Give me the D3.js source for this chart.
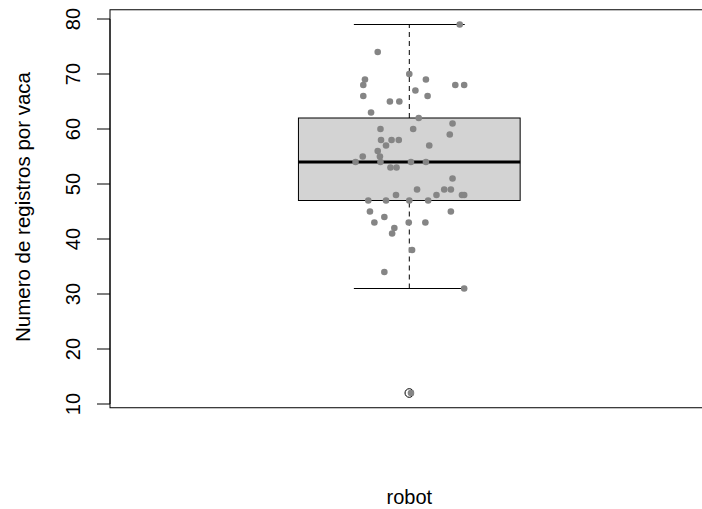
<!DOCTYPE html>
<html>
<head>
<meta charset="utf-8">
<script src="https://cdn.jsdelivr.net/npm/d3@7"></script>
<style>
  body { margin: 0; background: #fff; }
  text { font-family: "Liberation Sans", Arial, sans-serif; fill: #000; }
</style>
</head>
<body>
<div id="chart"></div>
<script>
// registros por vaca (robot)
var values = [79, 74, 70, 69, 69, 68, 68, 68, 67, 66, 66, 65, 65, 63, 62, 61, 60, 60, 59,
    58, 58, 58, 57, 57, 56, 55, 55, 54, 54, 54, 54, 53, 53, 51, 49, 49, 49, 48, 48, 48, 48,
    47, 47, 47, 47, 45, 45, 44, 43, 43, 43, 42, 41, 38, 34, 31, 12];
// horizontal jitter of each point (category units)
var jitter = [0.091, -0.057, 0.000, -0.080, 0.030, -0.083, 0.083, 0.099, 0.011, -0.083, 0.033,
    -0.035, -0.018, -0.069, 0.017, 0.078, -0.052, 0.007, 0.073, -0.051, -0.032, -0.019, -0.042,
    0.036, -0.057, -0.084, -0.053, -0.097, -0.052, 0.003, 0.030, -0.034, -0.023, 0.078, 0.014,
    0.063, 0.075, -0.024, 0.049, 0.095, 0.099, -0.074, -0.042, 0.000, 0.034, -0.071, 0.075,
    -0.045, -0.063, -0.001, 0.029, -0.027, -0.031, 0.005, -0.045, 0.099, 0.003];
var category = "robot";
var yTicks = [10, 20, 30, 40, 50, 60, 70, 80];
var yTitle = "Numero de registros por vaca";

var svg = d3.select("#chart").append("svg").attr("width", 702).attr("height", 509);

var x = d3.scaleLinear().domain([0.46, 1.54]).range([110, 708.6]);
var y = d3.scaleLinear().domain([10, 80]).range([404, 19]);

// tukey hinges like R boxplot.stats
var sorted = values.slice().sort(d3.ascending);
var n = sorted.length;
var med = d3.median(sorted);
var half = Math.floor((n + 1) / 2);
var lo = d3.median(sorted.slice(0, half));
var hi = d3.median(sorted.slice(n - half));
var iqr = hi - lo;
var inside = sorted.filter(function(v) { return v >= lo - 1.5 * iqr && v <= hi + 1.5 * iqr; });
var wLo = d3.min(inside), wHi = d3.max(inside);
var outliers = sorted.filter(function(v) { return v < wLo || v > wHi; });

var cx = x(1);
var g = svg.append("g");

// whiskers
g.selectAll("line.wh")
    .data([[wLo, lo], [hi, wHi]])
    .enter().append("line")
    .attr("x1", cx).attr("x2", cx)
    .attr("y1", function(d) { return y(d[0]); })
    .attr("y2", function(d) { return y(d[1]); })
    .style("stroke", "#000").style("stroke-dasharray", "5,4");

g.selectAll("line.cap")
    .data([wLo, wHi])
    .enter().append("line")
    .attr("x1", x(0.9)).attr("x2", x(1.1))
    .attr("y1", function(d) { return y(d); })
    .attr("y2", function(d) { return y(d); })
    .style("stroke", "#000");

g.append("rect")
    .attr("x", x(0.8)).attr("width", x(1.2) - x(0.8))
    .attr("y", y(hi)).attr("height", y(lo) - y(hi))
    .style("fill", "#d3d3d3").style("stroke", "#000");

g.append("line")
    .attr("x1", x(0.8)).attr("x2", x(1.2))
    .attr("y1", y(med)).attr("y2", y(med))
    .style("stroke", "#000").style("stroke-width", 3);

g.selectAll("circle.out")
    .data(outliers)
    .enter().append("circle")
    .attr("cx", cx).attr("cy", function(d) { return y(d); })
    .attr("r", 4.3)
    .style("fill", "none").style("stroke", "#000");

// jittered points
svg.append("g").selectAll("circle")
    .data(values)
    .enter().append("circle")
    .attr("cx", function(d, i) { return x(1 + jitter[i]); })
    .attr("cy", function(d) { return y(d); })
    .attr("r", 3.3)
    .style("fill", "#858585");

// frame
svg.append("rect")
    .attr("x", 110).attr("y", y(81.68))
    .attr("width", x(1.54) - 110).attr("height", y(9.32) - y(81.68))
    .style("fill", "none").style("stroke", "#000");

// y axis
var yAxis = svg.append("g").attr("transform", "translate(110,0)");
yAxis.append("line")
    .attr("x1", 0).attr("x2", 0)
    .attr("y1", y(d3.min(yTicks))).attr("y2", y(d3.max(yTicks)))
    .style("stroke", "#000");
yAxis.selectAll("line.tick")
    .data(yTicks)
    .enter().append("line")
    .attr("x1", -13).attr("x2", 0)
    .attr("y1", function(d) { return y(d); })
    .attr("y2", function(d) { return y(d); })
    .style("stroke", "#000");
yAxis.selectAll("text")
    .data(yTicks)
    .enter().append("text")
    .attr("transform", function(d) { return "translate(-30," + y(d) + ") rotate(-90)"; })
    .attr("text-anchor", "middle")
    .style("font-size", "20px")
    .text(function(d) { return d; });

svg.append("text")
    .attr("transform", "translate(29.5,207) rotate(-90)")
    .attr("text-anchor", "middle")
    .style("font-size", "20.5px")
    .text(yTitle);

svg.append("text")
    .attr("x", cx).attr("y", 504)
    .attr("text-anchor", "middle")
    .style("font-size", "20px")
    .text(category);
</script>
</body>
</html>
